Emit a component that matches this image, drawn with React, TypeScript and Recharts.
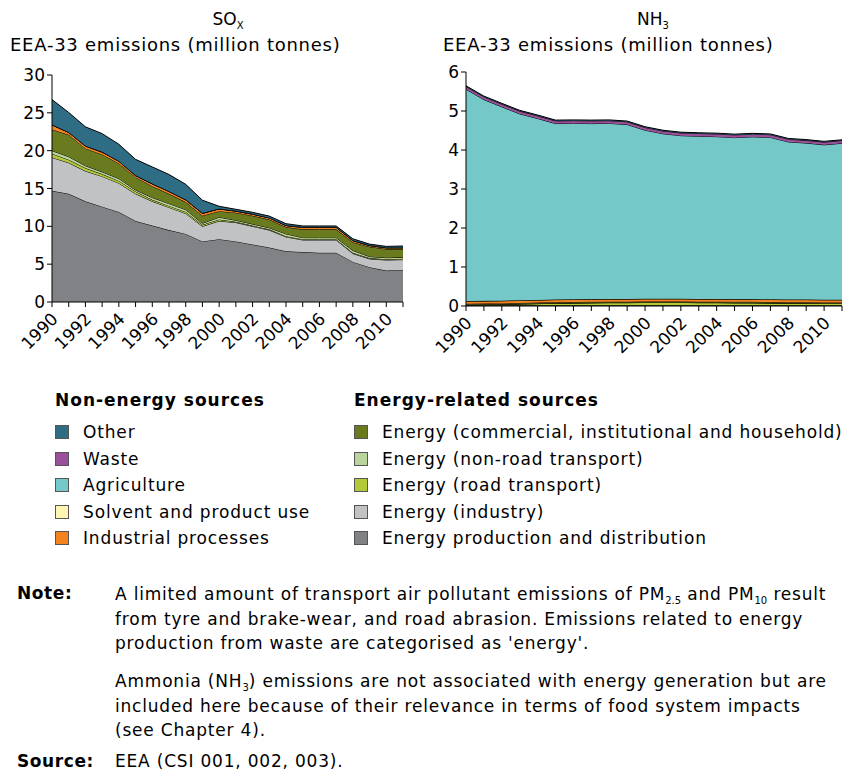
import React from 'react';
import { AreaChart, Area, XAxis, YAxis } from 'recharts';

const years = [1990, 1991, 1992, 1993, 1994, 1995, 1996, 1997, 1998, 1999, 2000, 2001, 2002, 2003, 2004, 2005, 2006, 2007, 2008, 2009, 2010, 2011];

// SOx (million tonnes)
const soxProduction = [14.7, 14.3, 13.3, 12.6, 11.9, 10.7, 10.1, 9.5, 9.0, 8.0, 8.3, 8.0, 7.6, 7.2, 6.7, 6.6, 6.5, 6.5, 5.3, 4.6, 4.15, 4.2];
const soxIndustry = [4.4, 4.1, 4.0, 4.0, 3.8, 3.6, 3.2, 3.0, 2.7, 2.0, 2.4, 2.5, 2.4, 2.3, 1.9, 1.6, 1.7, 1.7, 1.1, 1.1, 1.4, 1.4];
const soxRoad = [0.5, 0.4, 0.4, 0.3, 0.3, 0.3, 0.2, 0.2, 0.2, 0.2, 0.2, 0.1, 0.1, 0.1, 0.1, 0.1, 0.1, 0.1, 0.1, 0.1, 0.1, 0.1];
const soxNonRoad = [0.4, 0.4, 0.3, 0.3, 0.3, 0.2, 0.3, 0.3, 0.3, 0.2, 0.3, 0.2, 0.2, 0.2, 0.3, 0.2, 0.2, 0.2, 0.3, 0.2, 0.2, 0.2];
const soxCommercial = [2.8, 2.9, 2.3, 2.3, 2.0, 1.7, 1.5, 1.3, 1.0, 1.0, 0.8, 1.0, 1.1, 1.1, 0.9, 1.1, 1.1, 1.1, 1.1, 1.3, 1.15, 1.1];
const soxIndustrialProcesses = [0.6, 0.3, 0.3, 0.3, 0.3, 0.2, 0.3, 0.3, 0.3, 0.3, 0.3, 0.2, 0.2, 0.2, 0.2, 0.25, 0.25, 0.25, 0.2, 0.15, 0.15, 0.15];
const soxSolvent = [0.01, 0.01, 0.01, 0.01, 0.01, 0.01, 0.01, 0.01, 0.01, 0.01, 0.01, 0.01, 0.01, 0.01, 0.01, 0.01, 0.01, 0.01, 0.01, 0.01, 0.01, 0.01];
const soxAgriculture = [0.02, 0.02, 0.02, 0.02, 0.02, 0.02, 0.02, 0.02, 0.02, 0.02, 0.02, 0.02, 0.02, 0.02, 0.02, 0.02, 0.02, 0.02, 0.02, 0.02, 0.02, 0.02];
const soxWaste = [0.02, 0.02, 0.02, 0.02, 0.02, 0.02, 0.02, 0.02, 0.02, 0.02, 0.02, 0.02, 0.02, 0.02, 0.02, 0.02, 0.02, 0.02, 0.02, 0.02, 0.02, 0.02];
const soxOther = [3.3, 2.6, 2.5, 2.4, 2.2, 2.1, 2.2, 2.2, 2.0, 1.7, 0.3, 0.2, 0.2, 0.2, 0.2, 0.15, 0.15, 0.15, 0.2, 0.15, 0.15, 0.2];

// NH3 (million tonnes)
const nh3Production = [0.01, 0.01, 0.01, 0.01, 0.01, 0.01, 0.01, 0.01, 0.01, 0.01, 0.01, 0.01, 0.01, 0.01, 0.01, 0.01, 0.01, 0.01, 0.01, 0.01, 0.01, 0.01];
const nh3Industry = [0.01, 0.01, 0.01, 0.01, 0.01, 0.01, 0.01, 0.01, 0.01, 0.01, 0.01, 0.01, 0.01, 0.01, 0.01, 0.01, 0.01, 0.01, 0.01, 0.01, 0.01, 0.01];
const nh3Road = [0.01, 0.015, 0.02, 0.03, 0.04, 0.05, 0.055, 0.06, 0.065, 0.065, 0.07, 0.07, 0.07, 0.065, 0.065, 0.06, 0.06, 0.055, 0.05, 0.05, 0.045, 0.045];
const nh3NonRoad = [0.002, 0.002, 0.002, 0.002, 0.002, 0.002, 0.002, 0.002, 0.002, 0.002, 0.002, 0.002, 0.002, 0.002, 0.002, 0.002, 0.002, 0.002, 0.002, 0.002, 0.002, 0.002];
const nh3Commercial = [0.025, 0.025, 0.025, 0.025, 0.025, 0.025, 0.025, 0.025, 0.025, 0.025, 0.025, 0.025, 0.025, 0.025, 0.025, 0.025, 0.025, 0.025, 0.025, 0.025, 0.025, 0.025];
const nh3IndustrialProcesses = [0.065, 0.065, 0.065, 0.065, 0.065, 0.065, 0.065, 0.065, 0.065, 0.065, 0.065, 0.065, 0.065, 0.065, 0.065, 0.065, 0.065, 0.065, 0.065, 0.065, 0.065, 0.065];
const nh3Solvent = [0.005, 0.005, 0.005, 0.005, 0.005, 0.005, 0.005, 0.005, 0.005, 0.005, 0.005, 0.005, 0.005, 0.005, 0.005, 0.005, 0.005, 0.005, 0.005, 0.005, 0.005, 0.005];
const nh3Agriculture = [5.43, 5.16, 4.97, 4.78, 4.65, 4.51, 4.51, 4.5, 4.5, 4.47, 4.32, 4.23, 4.18, 4.17, 4.16, 4.14, 4.16, 4.15, 4.04, 4.01, 3.97, 4.01];
const nh3Waste = [0.07, 0.07, 0.07, 0.07, 0.07, 0.07, 0.07, 0.07, 0.07, 0.07, 0.07, 0.07, 0.07, 0.07, 0.07, 0.07, 0.07, 0.07, 0.07, 0.07, 0.07, 0.07];
const nh3Other = [0.02, 0.02, 0.02, 0.02, 0.02, 0.02, 0.02, 0.02, 0.02, 0.02, 0.02, 0.02, 0.02, 0.02, 0.02, 0.02, 0.02, 0.02, 0.02, 0.02, 0.02, 0.02];

const soxTicks = [0, 5, 10, 15, 20, 25, 30];
const nh3Ticks = [0, 1, 2, 3, 4, 5, 6];

// stacking order bottom -> top
const seriesDefs = [
  { key: 'prod', name: 'Energy production and distribution', color: '#808285' },
  { key: 'ind', name: 'Energy (industry)', color: '#c1c2c4' },
  { key: 'road', name: 'Energy (road transport)', color: '#b5c83a' },
  { key: 'nonroad', name: 'Energy (non-road transport)', color: '#b9d59c' },
  { key: 'comm', name: 'Energy (commercial, institutional and household)', color: '#6a7a1f' },
  { key: 'ip', name: 'Industrial processes', color: '#f4821f' },
  { key: 'solv', name: 'Solvent and product use', color: '#fff6b3' },
  { key: 'agri', name: 'Agriculture', color: '#74c9c8' },
  { key: 'waste', name: 'Waste', color: '#9a5098' },
  { key: 'other', name: 'Other', color: '#2f6d85' },
];

const nonEnergyLegend = ['other', 'waste', 'agri', 'solv', 'ip'];
const energyLegend = ['comm', 'nonroad', 'road', 'ind', 'prod'];

const soxData = years.map((year, i) => ({
  year,
  prod: soxProduction[i], ind: soxIndustry[i], road: soxRoad[i], nonroad: soxNonRoad[i],
  comm: soxCommercial[i], ip: soxIndustrialProcesses[i], solv: soxSolvent[i],
  agri: soxAgriculture[i], waste: soxWaste[i], other: soxOther[i],
}));

const nh3Data = years.map((year, i) => ({
  year,
  prod: nh3Production[i], ind: nh3Industry[i], road: nh3Road[i], nonroad: nh3NonRoad[i],
  comm: nh3Commercial[i], ip: nh3IndustrialProcesses[i], solv: nh3Solvent[i],
  agri: nh3Agriculture[i], waste: nh3Waste[i], other: nh3Other[i],
}));

const FONT = '"DejaVu Sans", Verdana, sans-serif';

const YearTick = (props: any) => {
  const { x, y, payload } = props;
  if (Number(payload.value) % 2 !== 0) return <g />;
  return (
    <text
      transform={`translate(${x + 7},${y + 11}) rotate(-45)`}
      textAnchor="end"
      fontSize={17}
      fill="#000"
      fontFamily={FONT}
    >
      {payload.value}
    </text>
  );
};

function Panel(props: { data: any[]; ticks: number[]; max: number; width: number; height: number; margin: any; yWidth: number }) {
  const { data, ticks, max, width, height, margin, yWidth } = props;
  return (
    <AreaChart width={width} height={height} data={data} margin={margin}>
      <XAxis
        dataKey="year"
        interval={0}
        tick={<YearTick />}
        tickSize={5}
        tickLine={{ stroke: '#000' }}
        axisLine={{ stroke: '#000' }}
        height={50}
      />
      <YAxis
        domain={[0, max]}
        ticks={ticks}
        width={yWidth}
        tickSize={5}
        tickLine={{ stroke: '#000' }}
        axisLine={{ stroke: '#000' }}
        tick={{ fontSize: 17, fill: '#000', fontFamily: FONT }}
        allowDataOverflow
      />
      {seriesDefs.map((s) => (
        <Area
          key={s.key}
          type="linear"
          dataKey={s.key}
          name={s.name}
          stackId="a"
          fill={s.color}
          fillOpacity={1}
          stroke="#000"
          strokeWidth={1}
          isAnimationActive={false}
          dot={false}
          activeDot={false}
        />
      ))}
    </AreaChart>
  );
}

const Swatch = ({ color }: { color: string }) => (
  <span
    style={{
      display: 'inline-block',
      width: 12,
      height: 12,
      background: color,
      border: '1px solid #555',
      marginRight: 14,
      verticalAlign: 'middle',
      position: 'relative',
      top: -1,
    }}
  />
);

const colorOf = (k: string) => seriesDefs.find((s) => s.key === k)!.color;
const nameOf = (k: string) => seriesDefs.find((s) => s.key === k)!.name;

export default function App() {
  const base: React.CSSProperties = { position: 'absolute', whiteSpace: 'nowrap' };
  const txt: React.CSSProperties = { fontSize: 17, letterSpacing: 0.8 };
  const sub: React.CSSProperties = { fontSize: 10, lineHeight: 0, letterSpacing: 0 };
  return (
    <div
      style={{
        position: 'absolute',
        left: 0,
        top: 0,
        width: 847,
        height: 773,
        background: '#fff',
        fontFamily: FONT,
        color: '#000',
        overflow: 'hidden',
      }}
    >
      {/* titles */}
      <div style={{ ...base, left: 0, width: 456, top: 9, textAlign: 'center', fontSize: 17 }}>
        SO<sub style={sub}>X</sub>
      </div>
      <div style={{ ...base, left: 10, top: 34, fontSize: 18, letterSpacing: 0.75 }}>EEA-33 emissions (million tonnes)</div>
      <div style={{ ...base, left: 443, width: 420, top: 9, textAlign: 'center', fontSize: 17 }}>
        NH<sub style={sub}>3</sub>
      </div>
      <div style={{ ...base, left: 443, top: 34, fontSize: 18, letterSpacing: 0.75 }}>EEA-33 emissions (million tonnes)</div>

      {/* charts */}
      <div style={{ position: 'absolute', left: 0, top: 0 }}>
        <Panel data={soxData} ticks={soxTicks} max={30} width={420} height={360}
          margin={{ top: 75, right: 17, left: 0, bottom: 8 }} yWidth={52} />
      </div>
      <div style={{ position: 'absolute', left: 420, top: 0 }}>
        <Panel data={nh3Data} ticks={nh3Ticks} max={6} width={427} height={364}
          margin={{ top: 72, right: 5, left: 0, bottom: 8 }} yWidth={46} />
      </div>

      {/* legend */}
      <div style={{ ...base, left: 55, top: 390, fontSize: 17, letterSpacing: 1, fontWeight: 'bold' }}>Non-energy sources</div>
      <div style={{ ...base, left: 354, top: 390, fontSize: 17, letterSpacing: 1, fontWeight: 'bold' }}>Energy-related sources</div>
      {nonEnergyLegend.map((k, i) => (
        <div key={k} style={{ ...base, ...txt, left: 55, top: 422 + i * 26.5, letterSpacing: 0.85 }}>
          <Swatch color={colorOf(k)} />
          {nameOf(k)}
        </div>
      ))}
      {energyLegend.map((k, i) => (
        <div key={k} style={{ ...base, ...txt, left: 354, top: 422 + i * 26.5, letterSpacing: 0.85 }}>
          <Swatch color={colorOf(k)} />
          {nameOf(k)}
        </div>
      ))}

      {/* notes */}
      <div style={{ ...base, left: 17, top: 583, fontSize: 17, letterSpacing: 0.6, fontWeight: 'bold' }}>Note:</div>
      <div style={{ position: 'absolute', left: 115, top: 582, width: 740, ...txt, lineHeight: '24.5px', whiteSpace: 'nowrap' }}>
        A limited amount of transport air pollutant emissions of PM<sub style={sub}>2.5</sub> and PM<sub style={sub}>10</sub> result
        <br />from tyre and brake-wear, and road abrasion. Emissions related to energy
        <br />production from waste are categorised as 'energy'.
      </div>
      <div style={{ position: 'absolute', left: 115, top: 669, width: 740, ...txt, lineHeight: '24.5px', whiteSpace: 'nowrap' }}>
        Ammonia (NH<sub style={sub}>3</sub>) emissions are not associated with energy generation but are
        <br />included here because of their relevance in terms of food system impacts
        <br />(see Chapter 4).
      </div>
      <div style={{ ...base, left: 17, top: 751, fontSize: 17, letterSpacing: 0.6, fontWeight: 'bold' }}>Source:</div>
      <div style={{ ...base, ...txt, left: 115, top: 751 }}>EEA (CSI 001, 002, 003).</div>
    </div>
  );
}
